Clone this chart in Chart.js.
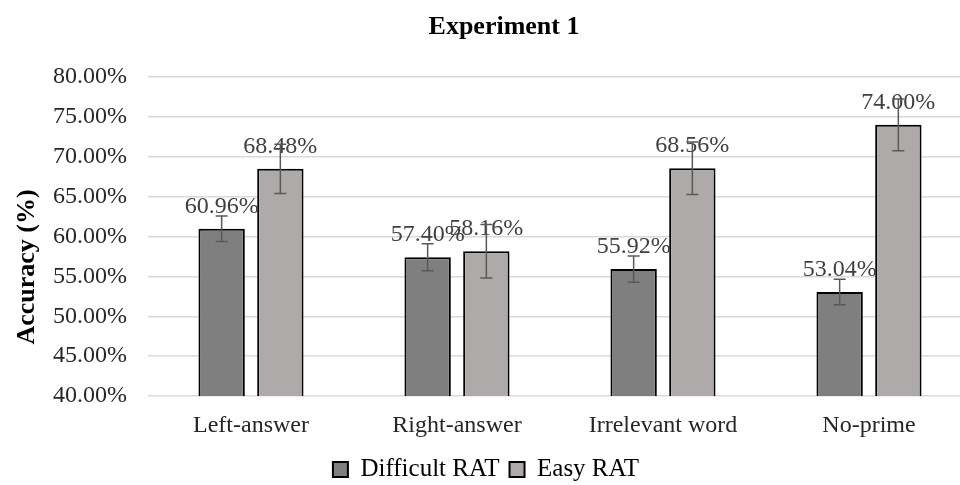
<!DOCTYPE html>
<html>
<head>
<meta charset="utf-8">
<script src="https://cdn.jsdelivr.net/npm/chart.js@4"></script>
<style>
  body { margin: 0; overflow: hidden; background: #fff; }
  #wrap { width: 990px; height: 485px; }
</style>
</head>
<body>
<div id="wrap"><canvas id="chart" width="990" height="485"></canvas></div>
<script>
// data
const categories = ["Left-answer", "Right-answer", "Irrelevant word", "No-prime"];
const difficultValues = [60.96, 57.40, 55.92, 53.04];
const easyValues = [68.48, 58.16, 68.56, 74.00];
const difficultErrors = [1.6, 1.7, 1.65, 1.6];
const easyErrors = [3.1, 3.35, 3.3, 3.25];
const seriesNames = ["Difficult RAT", "Easy RAT"];

const serif = "'Liberation Serif', 'Times New Roman', serif";

// value labels, error bars, chart title and y axis title
const barExtras = {
  id: 'barExtras',
  afterDatasetsDraw(chart) {
    const ctx = chart.ctx;
    const yScale = chart.scales.y;
    const errs = [difficultErrors, easyErrors];
    chart.data.datasets.forEach((ds, d) => {
      const meta = chart.getDatasetMeta(d);
      meta.data.forEach((bar, i) => {
        const v = ds.data[i];
        ctx.save();
        ctx.fillStyle = '#404040';
        ctx.font = "24px " + serif;
        ctx.textAlign = 'center';
        ctx.textBaseline = 'alphabetic';
        ctx.fillText(v.toFixed(2) + '%', bar.x, bar.y - 16);
        // error bar
        const top = yScale.getPixelForValue(v + errs[d][i]);
        const bot = yScale.getPixelForValue(v - errs[d][i]);
        ctx.strokeStyle = '#595959';
        ctx.lineWidth = 1.5;
        ctx.beginPath();
        ctx.moveTo(bar.x, top); ctx.lineTo(bar.x, bot);
        ctx.moveTo(bar.x - 6, top); ctx.lineTo(bar.x + 6, top);
        ctx.moveTo(bar.x - 6, bot); ctx.lineTo(bar.x + 6, bot);
        ctx.stroke();
        ctx.restore();
      });
    });
    ctx.save();
    ctx.fillStyle = '#000';
    ctx.textAlign = 'center';
    ctx.textBaseline = 'middle';
    ctx.font = "bold 26px " + serif;
    ctx.fillText('Experiment 1', 504, 27);
    // y title sits a bit below the middle in the original
    ctx.translate(27, 267);
    ctx.rotate(-Math.PI / 2);
    ctx.fillText('Accuracy (%)', 0, 0);
    ctx.restore();
  }
};

new Chart(document.getElementById('chart').getContext('2d'), {
  type: 'bar',
  data: {
    labels: categories,
    datasets: [
      {
        label: seriesNames[0],
        data: difficultValues,
        backgroundColor: '#7f7f7f',
        borderColor: '#000',
        borderWidth: 2,
        categoryPercentage: 0.57,
        barPercentage: 0.79
      },
      {
        label: seriesNames[1],
        data: easyValues,
        backgroundColor: '#aeaaaa',
        borderColor: '#000',
        borderWidth: 2,
        categoryPercentage: 0.57,
        barPercentage: 0.79
      }
    ]
  },
  options: {
    responsive: false,
    animation: false,
    layout: { padding: { left: 0, right: 18, top: 77, bottom: -7 } },
    plugins: {
      title: { display: false },
      legend: {
        position: 'bottom',
        labels: {
          color: '#000',
          font: { family: serif, size: 25 },
          boxWidth: 15,
          boxHeight: 15,
          padding: 10
        }
      },
      tooltip: { enabled: false }
    },
    scales: {
      x: {
        afterFit(scale) { scale.height = 51; },
        grid: { display: false },
        border: { display: false },
        ticks: { color: '#262626', font: { family: serif, size: 24 }, padding: 7 }
      },
      y: {
        min: 40,
        max: 80,
        afterFit(scale) { scale.width = 148; },
        border: { display: false },
        grid: { color: '#d9d9d9', lineWidth: 1.5, drawTicks: false },
        ticks: {
          stepSize: 5,
          padding: 21,
          color: '#262626',
          font: { family: serif, size: 24 },
          callback: v => v.toFixed(2) + '%'
        }
      }
    }
  },
  plugins: [barExtras]
});
</script>
</body>
</html>
